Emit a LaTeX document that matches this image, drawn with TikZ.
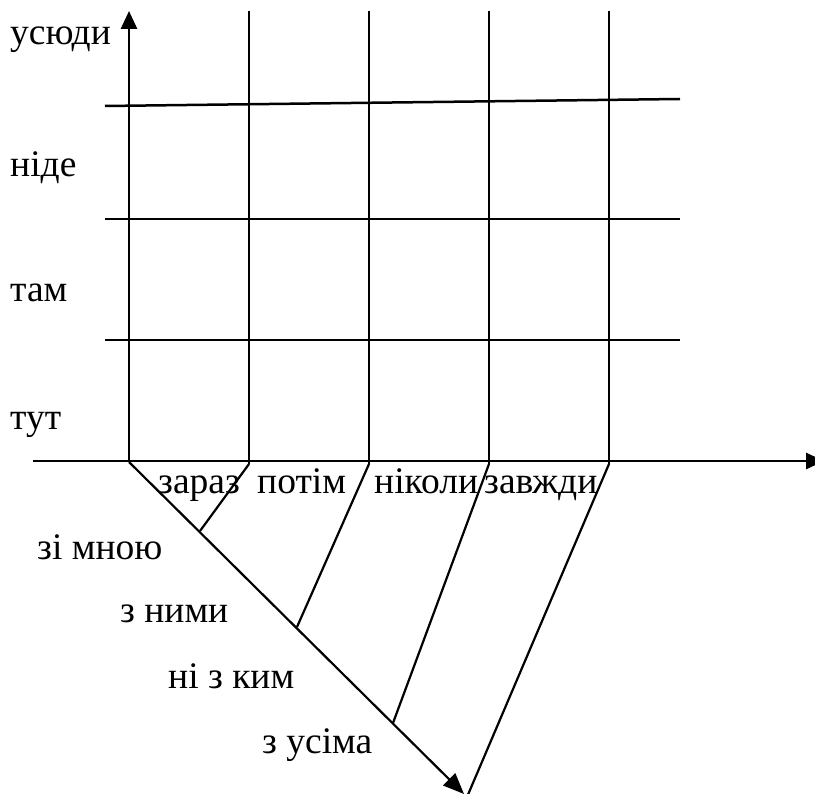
\documentclass[tikz,border=0pt]{standalone}
\usepackage{fontspec}
\setmainfont{Liberation Serif}
\usetikzlibrary{arrows.meta}
\begin{document}
\begin{tikzpicture}[x=1pt,y=-1pt,
  axis/.style={line width=2.8pt,-{Triangle[length=18pt,width=16pt]}},
  gridline/.style={line width=2.5pt},
  link/.style={line width=2.2pt},
  lbl/.style={anchor=base west,inner sep=0pt,font=\fontsize{37.5}{40}\selectfont}]
\useasboundingbox (0,0) rectangle (815,794);
% axis origin and ends
\coordinate (O) at (129,462);
\coordinate (Ytop) at (129,11);
\coordinate (Xleft) at (33,461);
\coordinate (Xright) at (824,461);
\coordinate (Dend) at (464,794);
% feet of the vertical grid lines
\coordinate (f1) at (249,464);
\coordinate (f2) at (369,464);
\coordinate (f3) at (489,464);
\coordinate (f4) at (609,464);
% tops of the vertical grid lines
\coordinate (t1) at (249,11);
\coordinate (t2) at (369,11);
\coordinate (t3) at (489,11);
\coordinate (t4) at (609,11);
% points on the diagonal axis
\coordinate (d1) at (200,531);
\coordinate (d2) at (297,627);
\coordinate (d3) at (393,723);
\coordinate (d4) at (467,797);
% horizontal grid line ends
\coordinate (h1a) at (105,106);
\coordinate (h1b) at (680,99);
\coordinate (h2a) at (105,219);
\coordinate (h2b) at (680,219);
\coordinate (h3a) at (105,340);
\coordinate (h3b) at (680,340);

% axes
\draw[axis] (O) -- (Ytop);
\draw[axis] (Xleft) -- (Xright);
\draw[axis,line width=2.2pt,-{Triangle[length=21pt,width=17pt]}] (O) -- (Dend);

% grid
\foreach \i in {1,...,4} \draw[gridline] (f\i) -- (t\i);
\draw[gridline] (h1a) -- (h1b);
\draw[gridline] (h2a) -- (h2b);
\draw[gridline] (h3a) -- (h3b);

% links from the time axis to the diagonal axis
\foreach \i in {1,...,4} \draw[link] (f\i) -- (d\i);

% labels of the vertical axis
\node[lbl] (usiudy) at (10,45) {усюди};
\node[lbl] (nide) at (10,177) {ніде};
\node[lbl] (tam) at (10,302) {там};
\node[lbl] (tut) at (10,430) {тут};
% labels of the horizontal axis
\node[lbl] (zaraz) at (158,494) {зараз};
\node[lbl] (potim) at (257,494) {потім};
\node[lbl] (nikoly) at (374,494) {ніколи};
\node[lbl] (zavzhdy) at (484,494) {завжди};
% labels of the diagonal axis
\node[lbl] (zimnoiu) at (37,559) {зі мною};
\node[lbl] (znymy) at (120,623) {з ними};
\node[lbl] (nizkym) at (168,688) {ні з ким};
\node[lbl] (zusima) at (262,753) {з усіма};
\end{tikzpicture}
\end{document}
